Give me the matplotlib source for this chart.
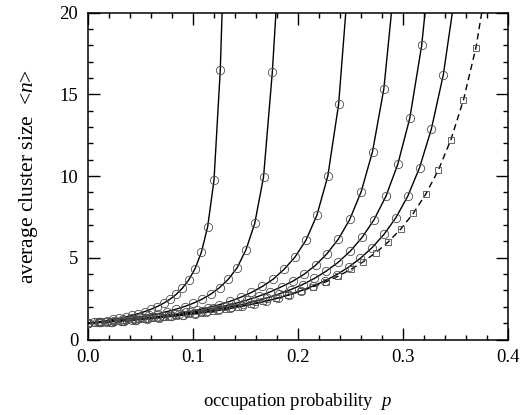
import numpy as np
import matplotlib.pyplot as plt
from matplotlib.ticker import MultipleLocator, FormatStrFormatter

plt.rcParams['font.family'] = 'Liberation Serif'
plt.rcParams['mathtext.fontset'] = 'custom'
plt.rcParams['mathtext.rm'] = 'Liberation Serif'
plt.rcParams['mathtext.it'] = 'Liberation Serif:italic'

# marker positions (p) and mean cluster size (n)
p1 = [0, .006, .012, .018, .024, .030, .036, .042, .048, .054, .060, .066,
      .072, .078, .084, .090, .096, .102, .108, .114, .120, .126]
n1 = [1.00, 1.05, 1.10, 1.16, 1.23, 1.30, 1.38, 1.48, 1.58, 1.71, 1.85, 2.02,
      2.22, 2.46, 2.76, 3.15, 3.65, 4.34, 5.34, 6.91, 9.74, 16.5]

p2 = [0, .0084, .0167, .0251, .0334, .0418, .0502, .0585, .0669, .0752, .0836,
      .0920, .1003, .1087, .1170, .1254, .1338, .1421, .1505, .1588, .1672, .1756]
n2 = [1.00, 1.05, 1.10, 1.16, 1.23, 1.30, 1.38, 1.48, 1.58, 1.71, 1.85,
      2.02, 2.22, 2.47, 2.78, 3.18, 3.70, 4.40, 5.50, 7.10, 9.95, 16.4]

p3 = [0, .0104, .0208, .0311, .0415, .0519, .0623, .0727, .0830, .0934, .1038,
      .1142, .1246, .1349, .1453, .1557, .1661, .1765, .1868, .1972, .2076,
      .2180, .2284, .2387]
n3 = [1.00, 1.05, 1.10, 1.16, 1.22, 1.30, 1.37, 1.46, 1.56, 1.67, 1.80,
      1.95, 2.12, 2.33, 2.58, 2.88, 3.25, 3.70, 4.30, 5.05, 6.08, 7.60,
      10.0, 14.4]

p4 = [0, .0108, .0217, .0325, .0434, .0542, .0650, .0759, .0867, .0976, .1084,
      .1192, .1301, .1409, .1518, .1626, .1734, .1843, .1951, .2060, .2168,
      .2276, .2385, .2493, .2602, .2710, .2818]
n4 = [1.00, 1.05, 1.10, 1.16, 1.23, 1.29, 1.37, 1.46, 1.55, 1.66, 1.77,
      1.90, 2.05, 2.22, 2.42, 2.65, 2.91, 3.23, 3.57, 4.00, 4.55,
      5.25, 6.15, 7.35, 9.05, 11.5, 15.35]

p5 = [0, .0114, .0227, .0341, .0454, .0568, .0681, .0795, .0908, .1022, .1135,
      .1249, .1362, .1476, .1589, .1703, .1816, .1930, .2043, .2157, .2270,
      .2384, .2497, .2611, .2724, .2838, .2951, .3065, .3178]
n5 = [1.00, 1.05, 1.10, 1.16, 1.22, 1.29, 1.36, 1.44, 1.53, 1.63, 1.74,
      1.87, 2.01, 2.16, 2.34, 2.54, 2.78, 3.05, 3.36, 3.74, 4.19,
      4.73, 5.40, 6.25, 7.33, 8.77, 10.74, 13.55, 18.0]

p6 = [0, .0113, .0226, .0338, .0451, .0564, .0677, .0790, .0902, .1015, .1128,
      .1241, .1354, .1466, .1579, .1692, .1805, .1918, .2030, .2143, .2256,
      .2369, .2482, .2594, .2707, .2820, .2933, .3046, .3158, .3271, .3384]
n6 = [1.00, 1.05, 1.10, 1.15, 1.21, 1.27, 1.34, 1.41, 1.49, 1.58, 1.67,
      1.78, 1.90, 2.03, 2.18, 2.34, 2.53, 2.74, 2.99, 3.27, 3.59,
      3.97, 4.43, 4.97, 5.63, 6.44, 7.46, 8.78, 10.52, 12.90, 16.2]

p7 = [0, .0119, .0238, .0358, .0477, .0596, .0715, .0834, .0954, .1073, .1192,
      .1311, .1430, .1550, .1669, .1788, .1907, .2026, .2146, .2265, .2384,
      .2503, .2622, .2742, .2861, .2980, .3099, .3218, .3338, .3457, .3576, .3695]
n7 = [1.00, 1.05, 1.11, 1.17, 1.23, 1.30, 1.38, 1.46, 1.55, 1.65, 1.76,
      1.88, 2.02, 2.16, 2.33, 2.51, 2.72, 2.96, 3.23, 3.53, 3.88,
      4.29, 4.76, 5.32, 5.98, 6.77, 7.73, 8.91, 10.38, 12.24, 14.66, 17.87]

# where each curve leaves the top of the frame (n = 20)
p_top = [0.1277, 0.179, 0.2455, 0.289, 0.321, 0.347, 0.375]

series = [(p1, n1), (p2, n2), (p3, n3), (p4, n4), (p5, n5), (p6, n6), (p7, n7)]

fig = plt.figure(figsize=(5.2, 4.15), dpi=100)
ax = fig.add_axes([0.1692, 0.1819, 0.8077, 0.7875])

for i, (p, n) in enumerate(series):
    dashed = (i == len(series) - 1)
    ls = (0, (4.5, 3)) if dashed else '-'
    ax.plot(list(p) + [p_top[i]], list(n) + [20], color='black', lw=1.0,
            ls=ls, zorder=2)
    ax.plot(p, n, ls='none', marker='s' if dashed else 'o',
            ms=5.0 if dashed else 6.0, mfc='none', mec='0.3', mew=0.6,
            zorder=3)

ax.set_xlim(0, 0.4)
ax.set_ylim(0, 20)
ax.xaxis.set_major_locator(MultipleLocator(0.1))
ax.xaxis.set_minor_locator(MultipleLocator(0.02))
ax.xaxis.set_major_formatter(FormatStrFormatter('%.1f'))
ax.yaxis.set_major_locator(MultipleLocator(5))
ax.yaxis.set_minor_locator(MultipleLocator(1))
ax.tick_params(which='both', direction='in', top=True, right=True,
               labelsize=13.5, width=1.0)
ax.tick_params(which='major', length=8.5, pad=7)
ax.tick_params(which='minor', length=3.6)
for s in ax.spines.values():
    s.set_linewidth(1.1)

ax.set_xlabel('occupation probability  $p$', fontsize=13.5, labelpad=18)
ax.set_ylabel('average cluster size  <$n$>', fontsize=15.5, labelpad=14)

fig.savefig('out.png', dpi=100)
